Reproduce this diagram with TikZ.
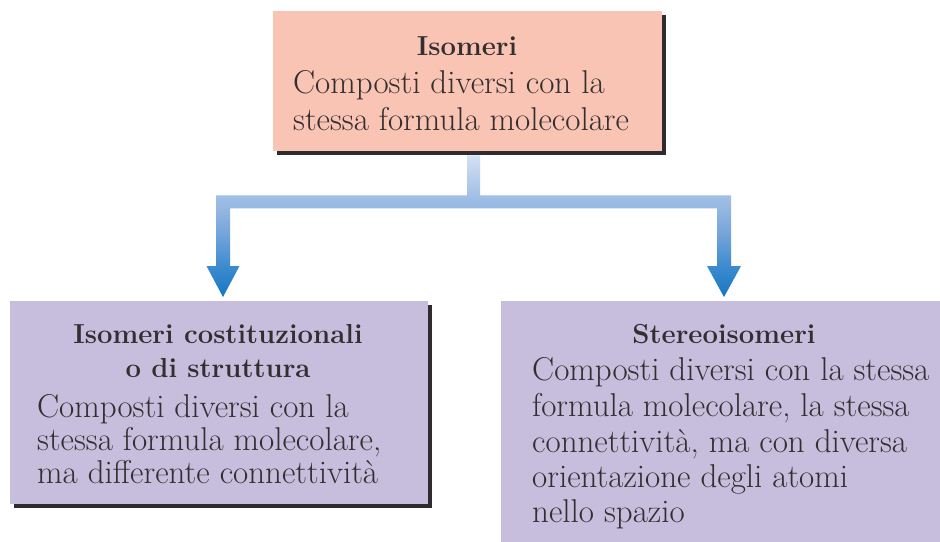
\documentclass[tikz,border=0pt]{standalone}
\usetikzlibrary{calc,shadows}
\definecolor{salmon}{HTML}{F9C4B4}
\definecolor{lilac}{HTML}{C7BEDE}
\definecolor{shadowc}{HTML}{2F2C2F}
\definecolor{ink}{HTML}{332E30}
\definecolor{a0}{HTML}{1677C1}
\definecolor{a1}{HTML}{3E8CCF}
\definecolor{a2}{HTML}{6FA2D9}
\definecolor{a3}{HTML}{95B7E2}
\definecolor{a4}{HTML}{A2C0E6}
\definecolor{a5}{HTML}{D3E0F2}
\pgfdeclareverticalshading{arrowshade}{100bp}{color(0bp)=(a0); color(25bp)=(a0); color(36.3bp)=(a1); color(46.1bp)=(a2); color(56.3bp)=(a3); color(60.9bp)=(a4); color(75bp)=(a5); color(100bp)=(a5)}
\begin{document}
\begin{tikzpicture}[x=1pt,y=-1pt,
  box/.style={rectangle, inner sep=0pt, anchor=north west, draw=none,
    drop shadow={shadow xshift=4pt, shadow yshift=-4pt, fill=shadowc, opacity=1}},
  body/.style={font=\fontsize{33}{38}\selectfont, text=ink, inner sep=0pt, anchor=base west},
  head/.style={font=\fontsize{27.5}{33}\selectfont\bfseries, text=ink, inner sep=0pt, anchor=base}]
\useasboundingbox[fill=white] (0,0) rectangle (940,541);

% boxes
\node[box, fill=salmon, minimum width=389pt, minimum height=140pt] (T) at (273,11) {};
\node[box, fill=lilac, minimum width=418pt, minimum height=203pt] (L) at (10,301) {};
\node[box, fill=lilac, minimum width=460pt, minimum height=260pt] (R) at (501,301) {};

% connector
\coordinate (s) at ($(T.south)+(6,4)$);
\coordinate (aL) at ($(L.north west)+(213,-4)$);
\coordinate (aR) at ($(R.north west)+(223,-4)$);
\shade[shading=arrowshade] let \p1=(s), \p2=(aL), \p3=(aR) in
  (\x1-6.5pt,\y1) -- (\x1+6.5pt,\y1) -- (\x1+6.5pt,\y1-40pt)
  -- (\x3+7pt,\y1-40pt) -- (\x3+7pt,\y3+31pt) -- (\x3+17pt,\y3+31pt)
  -- (\x3,\y3) -- (\x3-17pt,\y3+31pt) -- (\x3-7pt,\y3+31pt)
  -- (\x3-7pt,\y1-53pt) -- (\x2+7pt,\y1-53pt) -- (\x2+7pt,\y2+31pt)
  -- (\x2+16.5pt,\y2+31pt) -- (\x2,\y2) -- (\x2-16.5pt,\y2+31pt)
  -- (\x2-7pt,\y2+31pt) -- (\x2-7pt,\y1-40pt) -- (\x1-6.5pt,\y1-40pt) -- cycle;

% top texts
\node[head] (Th) at (467,55) {Isomeri};
\node[body] (T1) at (293,93) {Composti diversi con la};
\node[body] (T2) at (293,130) {stessa formula molecolare};

% left texts
\node[head] (Lh1) at (218,343) {Isomeri costituzionali};
\node[head] (Lh2) at (218,377) {o di struttura};
\node[body] (L1) at (37,417) {Composti diversi con la};
\node[body] (L2) at (37,450) {stessa formula molecolare,};
\node[body] (L3) at (37,483) {ma differente connettività};

% right texts
\node[head] (Rh) at (724,343) {Stereoisomeri};
\node[body] (R1) at (532,380) {Composti diversi con la stessa};
\node[body] (R2) at (532,416) {formula molecolare, la stessa};
\node[body] (R3) at (532,452) {connettività, ma con diversa};
\node[body] (R4) at (532,487) {orientazione degli atomi};
\node[body] (R5) at (532,522) {nello spazio};
\end{tikzpicture}
\end{document}
